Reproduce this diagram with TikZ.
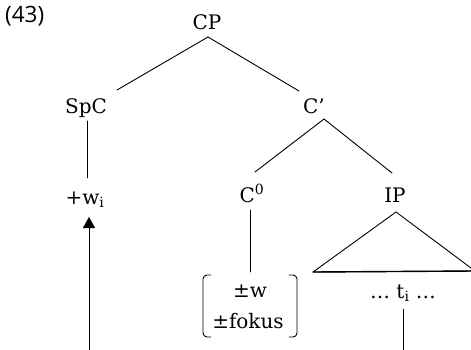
\documentclass[tikz,border=0pt]{standalone}
\usepackage{fontspec}
\setmainfont{DejaVu Serif}
\newfontfamily\exnumfont{Open Sans}
\usetikzlibrary{arrows.meta}
\begin{document}
\begin{tikzpicture}[x=1pt,y=-1pt,
  lab/.style={inner sep=0pt, anchor=base, font=\fontsize{20}{24}\selectfont},
  edge/.style={line width=0.9pt, line cap=round},
  move/.style={line width=0.9pt, -{Triangle[width=12pt,length=11pt]}}]
\useasboundingbox (0,0) rectangle (471,350);

% example number
\node[anchor=base west, inner sep=0pt, font=\exnumfont\fontsize{22.5}{26}\selectfont] (ex) at (5,23) {(43)};

% tree labels
\node[lab] (cp)    at (207,30)  {CP};
\node[lab] (spc)   at (86,114)  {SpC};
\node[lab] (cbar)  at (314,114) {C’};
\node[lab] (wi)    at (85,204)  {+w\textsubscript{i}};
\node[lab] (czero) at (252,202) {C\textsuperscript{0}};
\node[lab] (ip)    at (395,202) {IP};
\node[lab] (fw)    at (250,297) {±w};
\node[lab] (ff)    at (248,328) {±fokus};
\node[lab] (ti)    at (403,298) {… t\textsubscript{i} …};

% free ends at the lower edge
\coordinate (gapfoot) at (89,350);
\coordinate (tracefoot) at (403,350);

% branches
\draw[edge] ([shift={(1,7)}]cp.base) -- ([shift={(31,-24)}]spc.base);
\draw[edge] ([shift={(1,7)}]cp.base) -- ([shift={(-15,-23)}]cbar.base);
\draw[edge] ([shift={(1,7)}]spc.base) -- ([shift={(2,-26)}]wi.base);
\draw[edge] ([shift={(10,5)}]cbar.base) -- ([shift={(3,-30)}]czero.base);
\draw[edge] ([shift={(10,5)}]cbar.base) -- ([shift={(-3,-29)}]ip.base);
\draw[edge] ([shift={(-2,8)}]czero.base) -- ([shift={(0,-25)}]fw.base);

% IP triangle
\draw[edge, line join=miter] ([shift={(1,10)}]ip.base) -- ([shift={(-90,-26)}]ti.base)
  -- ([shift={(72,-27)}]ti.base) -- cycle;
\draw[line width=1.4pt] ([shift={(-90,-26)}]ti.base) -- ([shift={(72,-27)}]ti.base);

% feature bracket
\draw[edge, rounded corners=4pt] ([shift={(-37,-53)}]ff.base) -- ([shift={(-45,-53)}]ff.base)
  -- ([shift={(-45,9)}]ff.base) -- ([shift={(-37,9)}]ff.base);
\draw[edge, rounded corners=4pt] ([shift={(41,-53)}]ff.base) -- ([shift={(49,-53)}]ff.base)
  -- ([shift={(49,9)}]ff.base) -- ([shift={(41,9)}]ff.base);

% trace line and movement arrow
\draw[edge] ([shift={(0,11)}]ti.base) -- (tracefoot);
\draw[move] (gapfoot) -- ([shift={(4,13)}]wi.base);
\end{tikzpicture}
\end{document}
